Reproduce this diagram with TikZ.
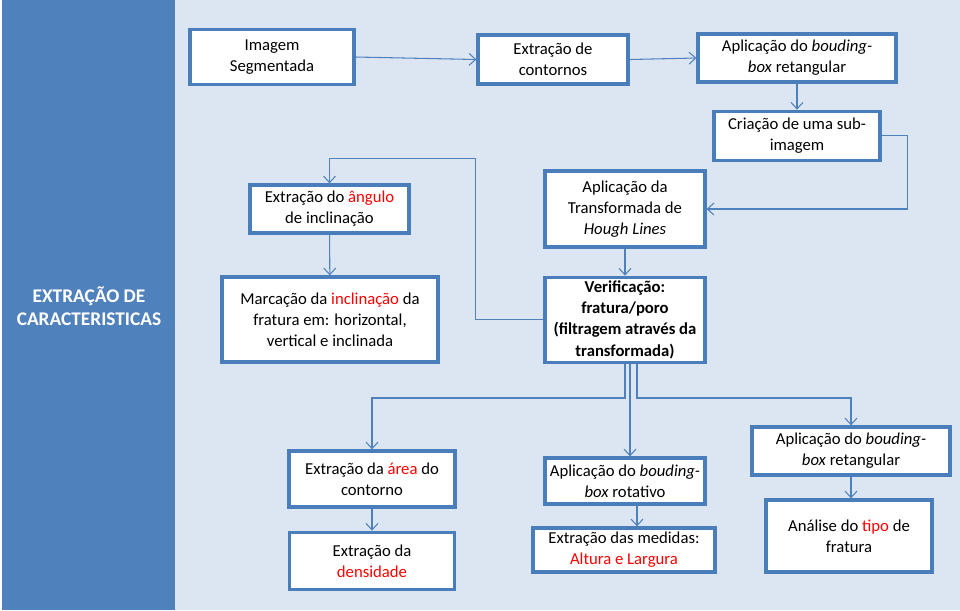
\documentclass[tikz,border=0pt]{standalone}
\usepackage{fontspec}
\setmainfont{Carlito}
\usepackage{xcolor}
\definecolor{panelblue}{RGB}{79,129,189}
\definecolor{bgblue}{RGB}{220,230,242}
\definecolor{edgeblue}{RGB}{74,126,187}
\definecolor{hlred}{RGB}{255,0,0}
\usetikzlibrary{arrows.meta, positioning, calc}
\newcommand{\hl}[1]{\textcolor{hlred}{#1}}
\tikzset{
  box/.style={
    rectangle, draw=edgeblue, fill=white, line width=1.9pt,
    align=center, inner sep=2pt, font=\fontsize{9.5}{12}\selectfont},
  vbox/.style={
    box, font=\fontsize{9.5}{12}\selectfont\bfseries},
  titletext/.style={
    align=center, text=white, font=\fontsize{11}{13}\selectfont\bfseries},
  arr/.style={-{Straight Barb[length=1.3mm, width=2.4mm]}, line width=0.6pt, panelblue},
}
\begin{document}
\begin{tikzpicture}[x=0.02cm, y=-0.02cm]
  \useasboundingbox (0,0) rectangle (960,610);
  % background
  \fill[white] (0,0) rectangle (960,610);
  \fill[bgblue] (175,0) rectangle (960,610);
  \fill[panelblue] (2,0) rectangle (175,610);
  \node[titletext] (ttl) at (89,306) {EXTRAÇÃO DE\\CARACTERISTICAS};
  % top row
  \node[box, minimum width=3.28cm, minimum height=1.10cm] (img) at (272,57)
    {Imagem\\Segmentada};
  \node[box, minimum width=3.0cm, minimum height=0.98cm] (cont) at (553,59.5)
    {Extração de\\contornos};
  \node[box, minimum width=3.96cm, minimum height=0.96cm] (bbr) at (797,58)
    {Aplicação do \textit{bouding-}\\\textit{box} retangular};
  \node[box, minimum width=3.32cm, minimum height=0.98cm, below=0.52cm of bbr] (sub)
    {Criação de uma sub-\\imagem};
  \node[box, minimum width=3.2cm, minimum height=1.52cm] (hough) at (625,209)
    {Aplicação da\\Transformada de\\\textit{Hough Lines}};
  \node[vbox, minimum width=3.2cm, minimum height=1.70cm, below=0.54cm of hough] (verif)
    {Verificação:\\fratura/poro\\(filtragem através da\\transformada)};
  % left branch
  \node[box, minimum width=3.18cm, minimum height=0.96cm] (ang) at (329.5,209)
    {Extração do \hl{ângulo}\\de inclinação};
  \node[box, minimum width=4.32cm, minimum height=1.70cm] (marc) at (330,319.5)
    {Marcação da \hl{inclinação} da\\fratura em: horizontal,\\vertical e inclinada};
  % bottom row
  \node[box, minimum width=3.32cm, minimum height=1.12cm] (area) at (372,479)
    {Extração da \hl{área} do\\contorno};
  \node[box, minimum width=3.3cm, minimum height=1.14cm, below=0.44cm of area] (dens)
    {Extração da\\\hl{densidade}};
  \node[box, minimum width=3.2cm, minimum height=0.92cm] (rot) at (625,481)
    {Aplicação do \textit{bouding-}\\\textit{box} rotativo};
  \node[box, minimum width=3.64cm, minimum height=0.88cm] (med) at (624,550)
    {Extração das medidas:\\\hl{Altura e Largura}};
  \node[box, minimum width=3.96cm, minimum height=0.96cm] (bbr2) at (851,451)
    {Aplicação do \textit{bouding-}\\\textit{box} retangular};
  \node[box, minimum width=3.32cm, minimum height=1.44cm] (anal) at (849,536)
    {Análise do \hl{tipo} de\\fratura};
  % connectors
  \draw[arr] (img.east) -- (cont.west);
  \draw[arr] (cont.east) -- (bbr.west);
  \draw[arr] (bbr) -- (sub);
  \draw[arr] (sub.east) -- ++(26,0) |- (hough.east);
  \draw[arr] (hough) -- (verif);
  \draw[arr] (verif.west) -- ++(-68,0) |- ([yshift=0.5cm]ang.north) -- (ang.north);
  \draw[arr] (ang) -- (marc);
  \draw[arr] (verif.south) -- ++(0,34) -| (area.north);
  \draw[arr] ([xshift=0.1cm]verif.south) -- ([xshift=0.1cm]verif.south |- rot.north);
  \draw[arr] ([xshift=0.24cm]verif.south) -- ++(0,34) -| (bbr2.north);
  \draw[arr] (area) -- (dens);
  \draw[arr] ([xshift=0.24cm]rot.south) -- ([xshift=0.24cm]rot.south |- med.north);
  \draw[arr] (bbr2.south) -- (bbr2.south |- anal.north);
\end{tikzpicture}
\end{document}
